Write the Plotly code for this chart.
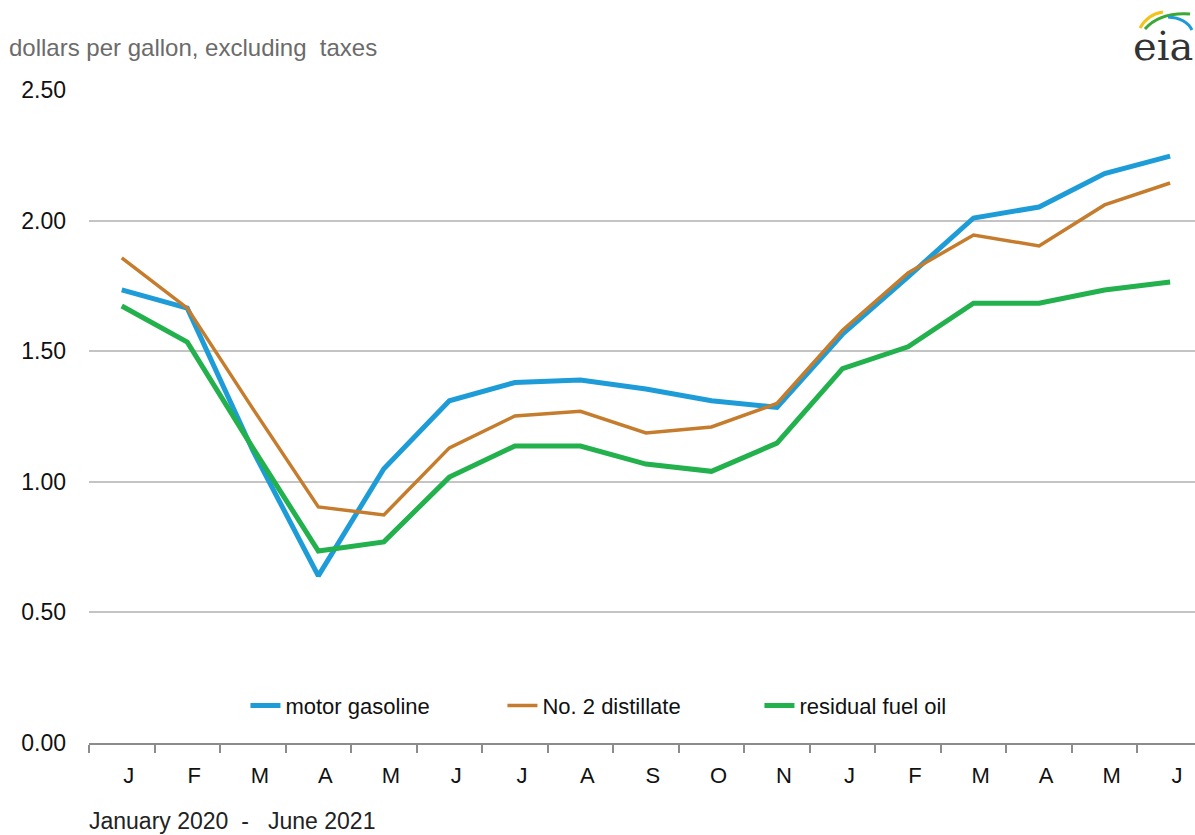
import plotly.graph_objects as go

months = ["J", "F", "M", "A", "M", "J", "J", "A", "S", "O", "N",
          "J", "F", "M", "A", "M", "J"]

gasoline = [1.735, 1.665, 1.12, 0.64, 1.05, 1.31, 1.38, 1.39, 1.355, 1.31,
            1.285, 1.565, 1.785, 2.01, 2.052, 2.18, 2.247]
distillate = [1.857, 1.665, 1.28, 0.904, 0.873, 1.13, 1.252, 1.27, 1.187,
              1.21, 1.30, 1.58, 1.80, 1.945, 1.903, 2.06, 2.144]
residual = [1.673, 1.535, 1.13, 0.735, 0.77, 1.018, 1.137, 1.137, 1.068,
            1.04, 1.148, 1.433, 1.517, 1.684, 1.684, 1.734, 1.765]

x = list(range(len(months)))

FONT = "Liberation Sans, Arial, sans-serif"

fig = go.Figure()
fig.add_trace(go.Scatter(x=x, y=gasoline, mode="lines", name="motor gasoline",
                         line=dict(color="#1d9cd8", width=5)))
fig.add_trace(go.Scatter(x=x, y=distillate, mode="lines", name="No. 2 distillate",
                         line=dict(color="#c57c2c", width=3.5)))
fig.add_trace(go.Scatter(x=x, y=residual, mode="lines", name="residual fuel oil",
                         line=dict(color="#22b14c", width=5)))

fig.update_layout(
    width=1195, height=835,
    margin=dict(l=89, r=0, t=90, b=92),
    paper_bgcolor="white", plot_bgcolor="white",
    font=dict(family=FONT, size=22, color="#111111"),
    showlegend=True,
    legend=dict(orientation="h", x=0.49, xanchor="center", y=0.057,
                yanchor="middle", bgcolor="rgba(0,0,0,0)",
                font=dict(size=22, color="#111111"),
                entrywidth=212, entrywidthmode="pixels",
                tracegroupgap=0),
)

fig.update_xaxes(
    range=[-0.5, 16.38],
    tickmode="array", tickvals=x, ticktext=months,
    ticks="", ticklabelshift=7, ticklabelstandoff=12,
    showgrid=False, zeroline=False,
    showline=True, linecolor="#8c8c8c", linewidth=2,
    minor=dict(tick0=-0.5, dtick=1, ticks="outside", ticklen=8,
               tickwidth=2, tickcolor="#8c8c8c", showgrid=False),
    tickfont=dict(size=22, color="#111111"),
)

fig.update_yaxes(
    range=[0, 2.5],
    tickvals=[0, 0.5, 1.0, 1.5, 2.0, 2.5],
    ticktext=["0.00", "0.50", "1.00", "1.50", "2.00", "2.50"],
    showgrid=True, gridcolor="#c4c4c4", gridwidth=2,
    zeroline=False, showline=False, ticks="",
    ticklabelstandoff=22,
    tickfont=dict(size=23, color="#111111"),
)

# units label and date range
fig.add_annotation(text="dollars per gallon, excluding  taxes", xref="paper", yref="paper",
                   x=-82 / 1106, y=1 + 43 / 653, xanchor="left", yanchor="middle",
                   showarrow=False, font=dict(size=24, color="#6b6b6b"))
fig.add_annotation(text="January 2020  -   June 2021", xref="paper", yref="paper",
                   x=-2 / 1106, y=-78 / 653, xanchor="left", yanchor="middle",
                   showarrow=False, font=dict(size=23, color="#222222"))

# eia logo
fig.add_annotation(text="eia", xref="paper", yref="paper",
                   x=1, y=1 + 44 / 653, xanchor="right", yanchor="middle",
                   showarrow=False,
                   font=dict(family="DejaVu Serif, Liberation Serif, serif",
                             size=40, color="#333333"))


def px(xp, yp):
    return (xp - 89) / 1106, (835 - 92 - yp) / 653


def arc(p0, c, p1, color, w):
    a, b, d = px(*p0), px(*c), px(*p1)
    fig.add_shape(type="path", xref="paper", yref="paper",
                  path=f"M {a[0]},{a[1]} Q {b[0]},{b[1]} {d[0]},{d[1]}",
                  line=dict(color=color, width=w))


arc((1140, 28), (1148, 14), (1163, 12), "#f2c318", 3)
arc((1145, 29), (1160, 12), (1190, 14), "#3aa935", 3)
arc((1168, 17), (1186, 18), (1192, 30), "#1e9ad6", 3)

fig.write_html("out.html", config={"displayModeBar": False},
               post_script="document.body.style.margin='0';")
